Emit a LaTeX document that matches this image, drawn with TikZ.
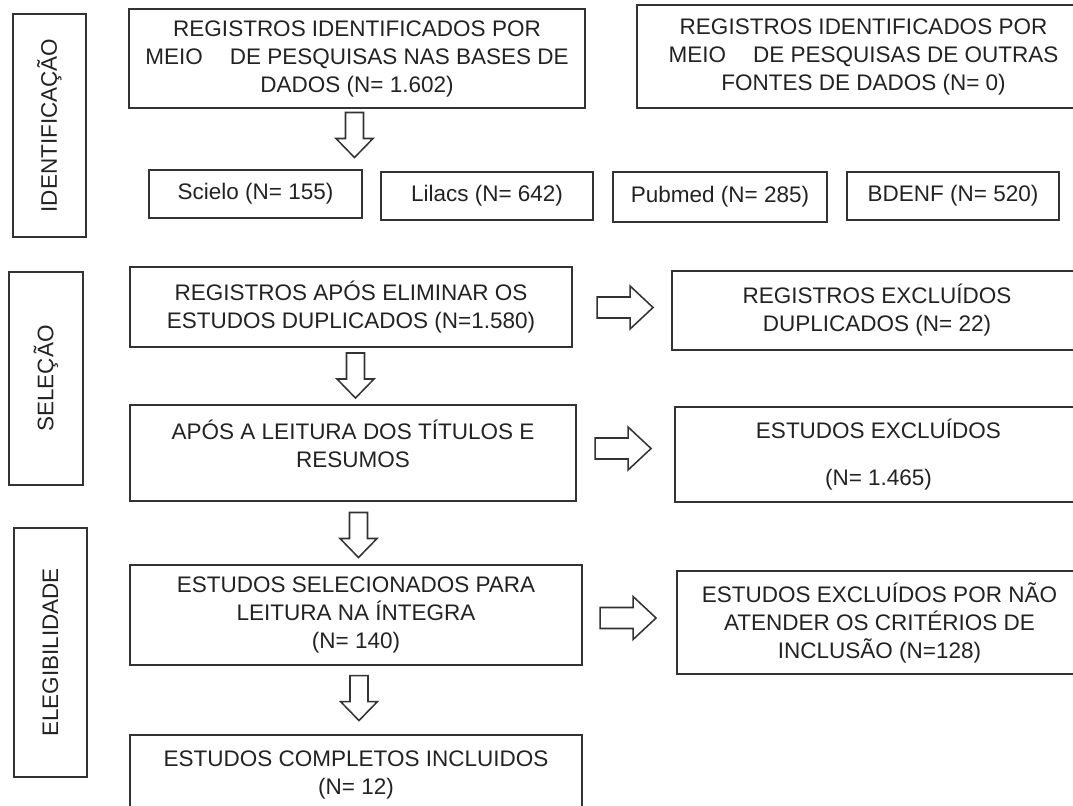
\documentclass[tikz,border=0pt]{standalone}
\usepackage{fontspec}
\setmainfont{Liberation Sans}
\usetikzlibrary{calc}
\definecolor{linegray}{HTML}{333333}
\definecolor{textgray}{HTML}{222222}
\tikzset{%
    stage/.style={inner sep=0pt,outer sep=0pt,shape=rectangle,draw=linegray,line width=1.3pt,text=textgray,align=center,font=\fontsize{16}{19.9}\selectfont},
    phase/.style={stage,rotate=90},
    down block/.pic={\draw[linegray,line width=1.1pt] (-9,-22.5) -- (9,-22.5) -- (9,3.5) -- (18.5,3.5) -- (0,22.5) -- (-18.5,3.5) -- (-9,3.5) -- cycle;},
    right block/.pic={\draw[linegray,line width=1.1pt] (-28,-10.5) -- (5,-10.5) -- (5,-21.5) -- (28,0) -- (5,21.5) -- (5,10.5) -- (-28,10.5) -- cycle;},
}
\begin{document}
\begin{tikzpicture}[x=0.025cm,y=-0.025cm]
        \useasboundingbox (0,0) rectangle (1073,805);
        \clip (0,0) rectangle (1073,805);

        \node [phase,minimum width=5.575cm,minimum height=1.825cm] (ident) at (49.5,125.5) {IDENTIFICAÇÃO};
        \node [phase,minimum width=5.325cm,minimum height=1.85cm] (selec) at (46,378.5) {SELEÇÃO};
        \node [phase,minimum width=6.225cm,minimum height=1.825cm] (elegib) at (50.5,652.5) {ELEGIBILIDADE};

        \node [stage,minimum width=11.4cm,minimum height=2.475cm] (bases) at (357,58.5) {REGISTROS IDENTIFICADOS POR\\MEIO\hspace{1.2em}DE PESQUISAS NAS BASES DE\\DADOS (N= 1.602)};
        \node [stage,minimum width=11.325cm,minimum height=2.575cm] (outras) at (863.5,56.5) {REGISTROS IDENTIFICADOS POR\\MEIO\hspace{1.2em}DE PESQUISAS DE OUTRAS\\FONTES DE DADOS (N= 0)};

        \node [stage,minimum width=5.325cm,minimum height=1.2cm] (scielo) at (255.5,194) {Scielo (N= 155)};
        \node [stage,minimum width=5.3cm,minimum height=1.2cm] (lilacs) at (487,196) {Lilacs (N= 642)};
        \node [stage,minimum width=5.35cm,minimum height=1.25cm] (pubmed) at (720,197) {Pubmed (N= 285)};
        \node [stage,minimum width=5.3cm,minimum height=1.2cm] (bdenf) at (953,196) {BDENF (N= 520)};

        \node [stage,minimum width=11.05cm,minimum height=2cm] (semdup) at (351,307) {REGISTROS APÓS ELIMINAR OS\\ESTUDOS DUPLICADOS (N=1.580)};
        \node [stage,minimum width=10.25cm,minimum height=1.975cm] (dupl) at (877,310.5) {REGISTROS EXCLUÍDOS\\DUPLICADOS (N= 22)};

        \node [stage,minimum width=11.15cm,minimum height=2.4cm] (titulos) at (353,453) {APÓS A LEITURA DOS TÍTULOS E\\RESUMOS\\[-7pt]\mbox{}};
        \node [stage,minimum width=10.175cm,minimum height=2.375cm] (excl) at (878.5,454.5) {ESTUDOS EXCLUÍDOS\\[13pt](N= 1.465)};

        \node [stage,minimum width=11.3cm,minimum height=2.5cm] (integra) at (356,615) {ESTUDOS SELECIONADOS PARA\\LEITURA NA ÍNTEGRA\\(N= 140)};
        \node [stage,minimum width=10.125cm,minimum height=2.575cm] (criterios) at (879.5,622.5) {ESTUDOS EXCLUÍDOS POR NÃO\\ATENDER OS CRITÉRIOS DE\\INCLUSÃO (N=128)};

        \node [stage,minimum width=11.3cm,minimum height=2cm] (incluidos) at (356,775) {ESTUDOS COMPLETOS INCLUIDOS\\(N= 12)};

        \pic at ($(bases.south)+(-2.5,27)$) {down block};
        \pic at ($(semdup.south)+(4.5,28.5)$) {down block};
        \pic at ($(titulos.south)+(5.5,34)$) {down block};
        \pic at ($(integra.south)+(3,33)$) {down block};

        \pic at ($(semdup.east)+(53,0.5)$) {right block};
        \pic at ($(titulos.east)+(47,-4.5)$) {right block};
        \pic at ($(integra.east)+(46,3)$) {right block};
    \end{tikzpicture}
\end{document}
